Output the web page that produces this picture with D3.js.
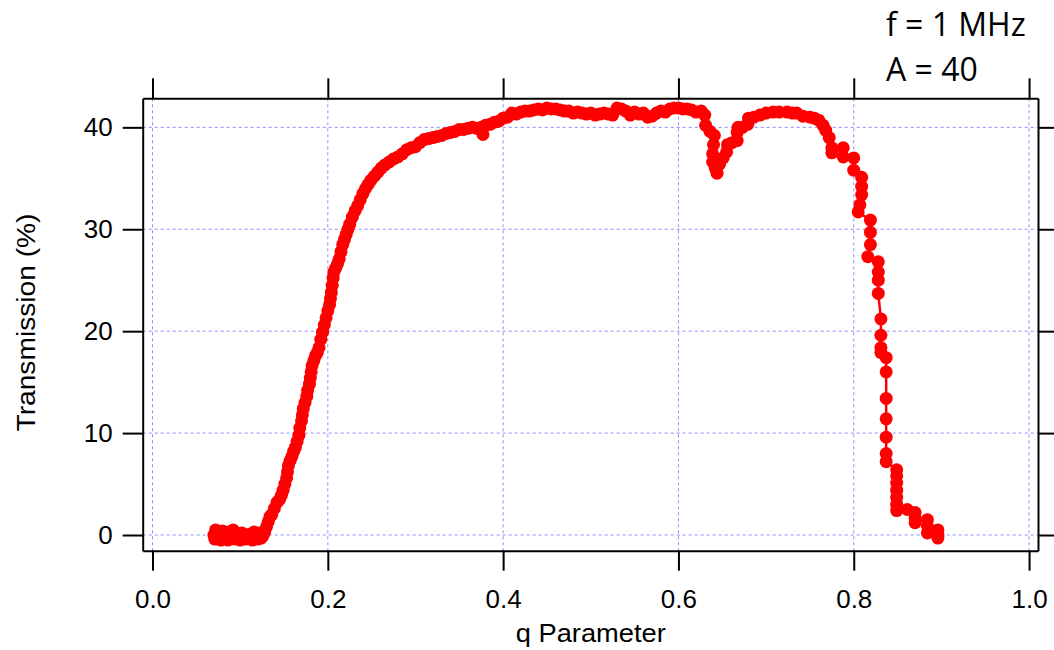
<!DOCTYPE html>
<html>
<head>
<meta charset="utf-8">
<script src="https://cdn.jsdelivr.net/npm/d3@7"></script>
<style>
html,body{margin:0;padding:0;background:#fff;}
svg{display:block;}
</style>
</head>
<body>
<svg id="chart" width="1054" height="650"></svg>
<script>
// ---- data ----
const qValues = [
0.070,0.071,0.072,0.074,0.076,0.078,0.080,0.082,0.084,0.086,0.088,0.090,0.092,0.094,0.096,0.098,0.100,0.102,0.104,0.106,0.108,0.110,0.112,0.114,0.116,0.118,0.120,0.122,0.124,0.126,
0.128,0.130,0.132,0.134,0.136,0.139,0.142,0.145,0.147,0.149,0.151,0.153,0.154,0.155,0.157,0.159,0.161,0.163,0.165,0.167,0.168,0.170,0.171,0.172,0.174,0.176,0.177,0.179,0.180,0.181,0.182,0.184,0.186,0.188,0.190,0.192,0.194,0.196,0.198,0.200,0.202,0.203,0.204,0.205,0.206,0.207,0.209,0.211,0.213,0.215,0.217,0.219,0.221,0.223,0.225,0.228,0.231,0.234,0.237,0.240,0.243,0.246,0.249,0.253,0.257,0.261,0.265,0.270,0.275,0.280,0.285,0.290,0.295,0.300,0.305,0.310,0.315,0.320,0.325,0.330,0.335,0.340,0.345,0.350,0.355,0.360,0.365,0.370,0.375,0.377,0.380,0.385,0.390,0.395,0.400,0.405,0.410,0.415,0.420,0.425,0.430,0.435,0.440,0.445,0.450,0.455,0.460,0.465,0.470,0.475,0.480,0.485,0.490,0.495,0.500,0.505,0.510,0.515,0.520,0.525,0.530,0.535,0.540,0.545,0.550,0.555,0.560,0.565,0.570,0.575,0.580,0.585,0.590,0.595,0.600,0.605,0.610,0.615,0.620,
0.626,0.630,0.631,0.636,0.641,0.640,0.639,0.639,0.642,0.644,0.647,0.651,0.655,0.656,0.661,0.667,0.667,0.668,0.673,0.679,0.680,0.686,0.693,0.700,0.708,0.715,0.724,0.730,0.735,0.742,0.750,0.755,0.760,0.765,0.768,0.772,0.775,0.775,0.788,0.788,0.800,0.800,0.809,0.809,0.809,0.807,0.805,0.819,0.819,0.819,0.816,0.828,0.828,0.828,0.828,0.831,0.831,0.831,0.831,0.837,0.837,0.837,0.837,0.837,0.837,0.837,0.849,0.849,0.849,0.849,0.849,0.849,0.849,0.861,0.870,0.870,0.870,0.884,0.884,0.884,0.896,0.896,0.896
];
const transmission = [
0.0,-0.4,0.5,-0.3,0.2,-0.5,0.4,-0.2,0.0,-0.5,0.3,-0.3,0.5,-0.4,0.1,-0.3,-0.5,0.2,-0.2,-0.4,0.0,-0.3,0.1,-0.5,0.3,-0.2,-0.4,0.2,-0.3,-0.1,
0.3,0.8,1.3,1.8,2.0,2.6,3.2,3.5,3.9,4.4,5.0,5.6,6.2,6.8,7.3,7.7,8.2,8.6,9.2,9.8,10.5,11.2,11.8,12.4,13.0,13.6,14.2,14.8,15.4,16.0,16.6,17.1,17.6,17.9,18.4,19.2,19.9,20.6,21.3,22.0,22.6,23.2,23.8,24.5,25.2,25.8,26.2,26.6,27.1,27.8,28.5,29.0,29.5,30.0,30.5,31.2,31.8,32.3,32.9,33.5,34.0,34.4,34.8,35.2,35.6,36.0,36.3,36.6,36.9,37.1,37.4,37.8,38.0,38.1,38.5,38.8,38.9,39.0,39.1,39.2,39.4,39.5,39.6,39.8,39.8,39.9,40.0,39.9,40.0,39.3,40.2,40.3,40.5,40.6,40.9,41.0,41.4,41.3,41.5,41.6,41.6,41.7,41.8,41.7,41.9,41.8,41.8,41.7,41.6,41.6,41.4,41.5,41.4,41.3,41.4,41.2,41.3,41.4,41.3,41.2,41.9,41.8,41.6,41.2,41.5,41.3,41.4,41.0,41.1,41.4,41.6,41.5,41.8,41.9,41.9,41.8,41.8,41.7,41.5,
41.6,41.2,40.2,39.6,39.2,38.3,37.4,36.6,36.0,35.5,36.4,37.0,37.6,38.3,38.5,38.7,39.5,40.0,40.0,40.3,40.9,41.0,41.2,41.4,41.5,41.5,41.5,41.4,41.4,41.1,41.0,40.9,40.7,40.2,39.7,39.0,38.0,37.5,38.0,37.1,37.0,35.8,35.1,34.2,33.4,32.4,31.7,30.9,29.7,28.5,27.3,26.8,25.8,25.0,23.7,21.2,19.6,18.4,17.9,17.4,16.0,13.4,11.4,9.6,8.0,7.2,6.4,5.8,5.1,4.4,3.7,3.0,2.4,2.5,2.2,1.7,1.2,1.5,0.9,0.2,0.5,0.0,-0.3
];
const xTicks = [0.0, 0.2, 0.4, 0.6, 0.8, 1.0];
const yTicks = [0, 10, 20, 30, 40];
const xDomain = [-0.0112, 1.0102];
const yDomain = [-1.54, 42.85];
const xTitle = "q Parameter";
const yTitle = "Transmission (%)";
const notes = ["f = 1 MHz", "A = 40"];

// ---- layout ----
const svg = d3.select("#chart");
const L = 142.7, R = 1038, T = 98.3, B = 550.7;
const x = d3.scaleLinear().domain(xDomain).range([L, R]);
const y = d3.scaleLinear().domain(yDomain).range([B, T]);
const font = "'Liberation Sans', Arial, Helvetica, sans-serif";

// grid
const grid = svg.append("g").attr("stroke", "#8c8cff").attr("stroke-width", 1).attr("stroke-dasharray", "3,3");
grid.selectAll("line.v").data(xTicks).join("line")
  .attr("x1", d => x(d)).attr("x2", d => x(d)).attr("y1", T).attr("y2", B);
grid.selectAll("line.h").data(yTicks).join("line")
  .attr("y1", d => y(d)).attr("y2", d => y(d)).attr("x1", L).attr("x2", R);

// axes
function styleAxis(g) {
  g.selectAll("path.domain").attr("stroke", "#000").attr("stroke-width", 2);
  g.selectAll(".tick line").attr("stroke", "#000").attr("stroke-width", 2);
  g.selectAll(".tick text").attr("font-family", font).attr("font-size", 26).attr("fill", "#000");
}
svg.append("g").attr("transform", `translate(0,${B})`)
  .call(d3.axisBottom(x).tickValues(xTicks).tickFormat(d3.format(".1f")).tickSize(20).tickSizeOuter(0).tickPadding(19))
  .call(styleAxis);
svg.append("g").attr("transform", `translate(0,${T})`)
  .call(d3.axisTop(x).tickValues(xTicks).tickFormat("").tickSize(20).tickSizeOuter(0))
  .call(styleAxis);
svg.append("g").attr("transform", `translate(${L},0)`)
  .call(d3.axisLeft(y).tickValues(yTicks).tickFormat(d3.format("d")).tickSize(20).tickSizeOuter(0).tickPadding(10))
  .call(styleAxis);
svg.append("g").attr("transform", `translate(${R},0)`)
  .call(d3.axisRight(y).tickValues(yTicks).tickFormat("").tickSize(20).tickSizeOuter(0))
  .call(styleAxis);

// data
const pts = qValues.map((q, i) => [q, transmission[i]]);
svg.append("path").datum(pts)
  .attr("fill", "none").attr("stroke", "#ff0000").attr("stroke-width", 2.5)
  .attr("d", d3.line().x(d => x(d[0])).y(d => y(d[1])));
svg.append("g").selectAll("circle").data(pts).join("circle")
  .attr("cx", d => x(d[0])).attr("cy", d => y(d[1])).attr("r", 6.5).attr("fill", "#ff0000");

// titles
svg.append("text").attr("x", (x(0) + x(1)) / 2).attr("y", 642)
  .attr("text-anchor", "middle").attr("font-family", font).attr("font-size", 26)
  .attr("textLength", 150).attr("lengthAdjust", "spacingAndGlyphs").text(xTitle);
svg.append("text").attr("transform", `translate(35,${(213 + 432) / 2}) rotate(-90)`)
  .attr("text-anchor", "middle").attr("font-family", font).attr("font-size", 26)
  .attr("textLength", 218).attr("lengthAdjust", "spacingAndGlyphs").text(yTitle);

// annotation
svg.append("g").selectAll("text").data(notes).join("text")
  .attr("x", 886).attr("y", (d, i) => 36 + i * 45)
  .attr("font-family", "'Open Sans','Noto Sans',sans-serif").attr("font-size", 32).attr("fill", "#000")
  .text(d => d);
</script>
</body>
</html>
